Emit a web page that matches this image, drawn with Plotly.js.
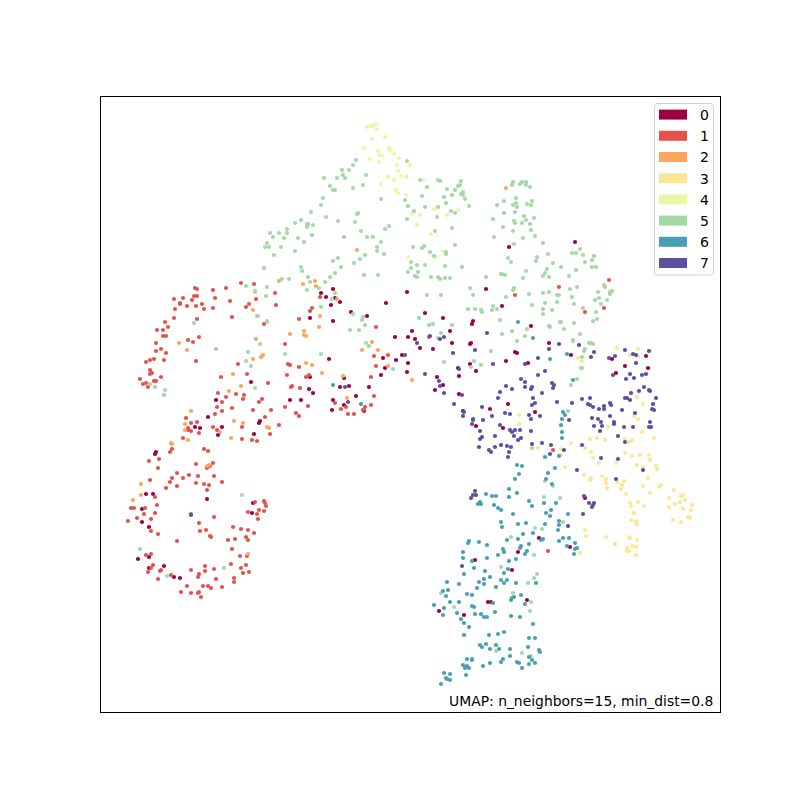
<!DOCTYPE html>
<html><head><meta charset="utf-8">
<script src="https://cdn.plot.ly/plotly-3.0.1.min.js"></script>
<style>html,body{margin:0;padding:0;background:#fff}</style></head>
<body><div id="chart" style="width:800px;height:800px"></div>
<script>
const labels = ["0","1","2","3","4","5","6","7"];
const colors = ["#9e0142","#e4524c","#fca55d","#fee593","#e9f8a3","#a2d9a4","#47a0b3","#5e4fa2"];
const caption = "UMAP: n_neighbors=15, min_dist=0.8";
const c0 = [[333,289],[321,293],[326,297],[335,298],[331,305],[340,302],[386,303],[351,312],[367,316],[310,318],[333,321],[395,337],[329,359],[383,358],[396,360],[385,368],[381,375],[310,377],[344,378],[251,382],[340,387],[349,386],[369,387],[309,389],[313,393],[356,396],[216,400],[290,400],[301,400],[333,400],[344,405],[332,410],[364,411],[208,417],[260,421],[259,423],[195,427],[200,428],[222,427],[218,435],[254,434],[156,452],[155,454],[207,499],[146,494],[153,494],[142,509],[253,503],[252,513],[142,522],[149,527],[149,557],[138,559],[149,568],[164,566],[174,577],[180,578],[575,242],[486,289],[407,292],[502,306],[425,313],[443,318],[473,321],[472,324],[531,326],[412,331],[450,331],[408,337],[415,339],[509,247],[420,348],[433,349],[452,343],[470,344],[471,343],[549,343],[515,352],[517,353],[402,355],[571,355],[506,361],[528,363],[612,359],[646,356],[408,363],[470,364],[625,366],[648,368],[458,368],[407,372],[476,371],[459,376],[616,373],[437,377],[443,385],[435,390],[459,394],[508,404],[490,409],[463,411],[535,412],[476,426],[503,428],[585,498],[539,538],[570,547],[518,552],[475,560],[512,570],[527,600],[488,602],[491,602],[439,611],[464,615]];
const c1 = [[195,288],[197,289],[213,290],[226,288],[241,283],[254,284],[275,293],[194,296],[197,296],[183,298],[174,299],[192,300],[215,298],[230,301],[256,299],[249,304],[246,307],[276,305],[180,303],[180,304],[187,306],[196,306],[202,304],[175,309],[204,309],[213,308],[174,318],[232,317],[197,319],[165,322],[168,327],[157,330],[163,330],[166,336],[163,336],[199,337],[188,340],[193,342],[156,343],[161,349],[156,351],[166,353],[154,359],[150,360],[146,362],[164,360],[196,361],[150,370],[152,373],[150,374],[161,377],[140,379],[154,381],[156,381],[146,383],[143,384],[148,387],[264,324],[238,364],[221,377],[247,374],[268,383],[218,393],[236,394],[244,395],[226,397],[243,399],[222,402],[259,402],[262,399],[217,407],[232,408],[222,411],[253,410],[271,410],[215,414],[265,417],[186,418],[197,422],[191,423],[188,428],[188,430],[213,427],[242,427],[191,431],[217,430],[279,425],[199,433],[270,434],[183,438],[242,439],[252,440],[257,441],[299,319],[310,311],[312,308],[320,297],[376,327],[285,344],[288,364],[290,365],[299,367],[287,375],[306,377],[309,375],[292,386],[291,387],[300,388],[308,406],[285,407],[296,413],[299,416],[374,356],[388,355],[376,366],[371,377],[374,396],[371,405],[335,403],[346,407],[341,409],[348,414],[354,414],[365,407],[363,410],[204,449],[208,451],[172,449],[170,452],[159,459],[149,461],[196,464],[213,463],[210,466],[207,468],[158,468],[177,473],[189,475],[198,476],[172,478],[183,478],[214,476],[150,480],[170,482],[196,483],[222,482],[204,484],[209,485],[177,486],[166,488],[207,490],[155,497],[255,502],[264,501],[265,503],[266,506],[157,505],[131,508],[134,508],[145,508],[259,510],[248,512],[264,511],[155,513],[144,514],[191,514],[257,514],[214,517],[137,518],[151,519],[258,519],[128,521],[199,523],[233,527],[241,529],[248,530],[206,530],[200,531],[151,531],[254,533],[158,534],[210,536],[211,537],[246,537],[235,539],[228,540],[248,540],[177,541],[232,549],[146,555],[151,554],[240,556],[247,556],[231,564],[246,565],[153,565],[205,566],[151,568],[241,568],[214,569],[191,570],[205,571],[161,570],[160,571],[148,572],[199,574],[243,573],[249,572],[198,577],[171,575],[234,578],[216,579],[158,579],[234,582],[187,586],[203,586],[208,586],[211,588],[222,587],[181,592],[191,593],[199,592],[198,593],[201,597],[515,295],[559,287],[609,280],[585,312],[604,308],[553,450],[548,551],[429,337]];
const c2 = [[279,281],[303,284],[315,281],[316,286],[337,299],[253,310],[320,316],[319,327],[290,334],[304,331],[304,335],[306,336],[256,339],[179,343],[187,350],[372,342],[362,350],[378,350],[263,355],[261,357],[253,359],[306,363],[312,365],[388,366],[233,374],[322,373],[343,376],[241,386],[229,391],[347,398],[191,411],[234,421],[243,423],[185,424],[267,427],[269,428],[185,430],[220,432],[231,438],[188,440],[171,443],[172,444],[209,465],[207,466],[141,484],[141,495],[133,500],[248,554],[506,188],[357,250],[412,380]];
const c3 = [[617,348],[638,349],[630,355],[638,357],[578,358],[582,361],[637,397],[643,404],[519,415],[634,416],[638,419],[519,424],[608,427],[642,432],[590,439],[597,438],[605,440],[625,439],[632,440],[629,442],[654,438],[571,443],[538,448],[561,449],[585,448],[591,452],[625,453],[632,456],[640,455],[649,455],[561,455],[593,458],[650,460],[599,463],[616,463],[637,465],[656,466],[657,469],[643,467],[565,467],[584,475],[591,478],[590,480],[602,476],[606,479],[606,483],[617,482],[624,481],[648,478],[622,485],[643,486],[607,488],[621,489],[661,485],[659,487],[674,490],[650,493],[626,494],[683,495],[681,496],[669,498],[685,500],[680,502],[675,504],[692,505],[630,503],[638,502],[631,506],[644,506],[669,507],[683,509],[691,510],[634,513],[688,517],[690,518],[673,520],[681,522],[631,520],[636,521],[637,524],[606,537],[615,544],[585,530],[586,536],[580,553],[629,537],[630,538],[637,540],[632,546],[636,547],[627,548],[627,551],[629,551],[636,555]];
const c4 = [[376,124],[367,127],[370,126],[373,126],[377,129],[385,137],[372,139],[364,148],[389,148],[390,150],[378,151],[379,155],[382,156],[394,154],[370,159],[399,158],[379,162],[397,165],[410,165],[398,171],[388,177],[401,176],[406,177],[407,176],[394,180],[381,184],[423,180],[396,190],[398,193],[406,195],[434,209],[458,210],[412,214],[420,215],[447,215],[417,225],[431,234],[372,237],[443,251],[408,257],[436,257]];
const c5 = [[356,160],[353,165],[349,170],[342,170],[343,175],[366,175],[324,178],[337,178],[345,178],[407,161],[420,180],[438,180],[440,181],[461,181],[460,185],[458,186],[455,190],[447,189],[427,187],[330,186],[333,190],[335,190],[353,188],[363,185],[463,192],[461,194],[463,195],[452,195],[444,197],[422,196],[381,199],[323,198],[405,200],[465,199],[446,203],[321,205],[408,206],[438,207],[425,207],[469,206],[414,211],[451,211],[455,213],[311,212],[358,213],[357,214],[437,217],[326,217],[407,219],[301,220],[338,221],[355,222],[295,223],[308,224],[307,224],[313,225],[307,227],[287,229],[389,226],[385,229],[452,228],[435,231],[361,231],[270,233],[279,233],[287,233],[312,235],[273,237],[284,238],[298,238],[344,237],[367,237],[373,237],[381,242],[267,243],[304,242],[265,247],[269,247],[281,247],[295,251],[377,247],[413,247],[424,246],[422,248],[455,245],[377,251],[384,254],[365,255],[274,255],[430,252],[434,256],[446,252],[446,254],[360,259],[338,258],[333,261],[411,262],[417,265],[425,265],[445,266],[462,267],[354,263],[341,267],[264,268],[301,267],[302,271],[411,268],[408,272],[418,272],[335,273],[364,275],[378,275],[415,276],[417,277],[431,277],[438,277],[440,279],[445,278],[450,278],[308,277],[330,277],[282,279],[289,279],[310,282],[325,282],[267,287],[319,288],[307,290],[255,291],[335,293],[266,296],[332,299],[427,295],[441,295],[321,307],[257,316],[353,314],[363,317],[362,320],[365,325],[267,321],[350,330],[359,330],[419,318],[429,325],[433,324],[452,325],[441,333],[438,338],[513,182],[512,185],[520,184],[522,182],[526,182],[526,185],[530,187],[516,198],[504,201],[532,201],[497,205],[513,205],[516,203],[517,207],[527,204],[531,205],[515,212],[504,213],[524,216],[493,219],[534,218],[526,220],[514,221],[515,223],[522,223],[530,224],[503,227],[531,230],[513,231],[494,237],[523,238],[535,236],[543,243],[514,244],[580,249],[572,253],[576,253],[583,255],[594,256],[548,254],[508,258],[537,257],[536,261],[592,260],[585,262],[511,262],[553,263],[561,267],[592,267],[596,267],[547,269],[545,273],[526,271],[576,270],[501,274],[502,274],[505,275],[486,277],[543,276],[549,277],[569,276],[523,278],[604,285],[605,287],[514,288],[513,290],[470,288],[577,287],[570,289],[598,292],[612,291],[610,292],[610,294],[549,292],[543,293],[529,294],[557,295],[559,295],[572,297],[473,295],[506,297],[599,298],[595,300],[607,300],[601,304],[545,303],[557,302],[574,304],[532,305],[493,306],[468,309],[475,309],[481,310],[482,312],[492,310],[497,309],[543,309],[552,310],[583,308],[543,314],[596,312],[500,320],[597,319],[593,321],[560,322],[561,322],[574,323],[549,326],[550,327],[527,329],[564,329],[512,331],[502,334],[580,334],[525,336],[573,340],[517,341],[573,341],[589,343],[591,343],[593,344],[585,349],[584,351],[582,357],[581,368],[582,368],[577,379],[571,385],[491,351],[474,361],[471,367],[481,365],[444,362],[393,369],[568,411],[532,448],[545,481],[553,486],[246,286],[255,292],[194,323],[216,349],[260,344],[248,352],[246,361],[251,366],[285,354],[321,354],[366,343],[369,346],[255,388],[150,384],[155,387],[165,390],[164,395],[242,495],[140,549],[224,568],[167,576],[258,316],[267,322],[544,497],[560,498],[563,522],[535,528],[542,529],[511,537],[534,555],[501,567],[537,574],[534,578],[528,583],[441,593],[513,593],[531,602],[454,607],[530,611],[496,651],[522,653],[531,656]];
const c6 = [[509,489],[517,493],[486,494],[492,496],[496,496],[509,497],[529,501],[544,503],[556,503],[480,502],[478,504],[481,504],[494,505],[532,506],[498,508],[501,510],[546,513],[551,510],[568,514],[550,516],[513,514],[501,522],[518,524],[526,523],[545,524],[559,521],[559,525],[502,527],[558,530],[533,533],[523,534],[518,539],[507,540],[543,539],[541,540],[563,538],[569,538],[559,541],[469,541],[468,543],[479,542],[487,545],[529,544],[521,546],[520,548],[575,543],[567,546],[577,548],[575,549],[503,549],[504,552],[463,552],[527,551],[525,554],[574,554],[498,555],[463,558],[487,558],[516,559],[472,561],[509,561],[474,568],[508,569],[485,571],[504,573],[464,574],[490,577],[484,579],[501,580],[507,580],[479,582],[447,582],[459,584],[516,583],[536,583],[484,584],[504,583],[477,588],[496,587],[448,590],[443,591],[467,594],[472,595],[446,596],[521,595],[514,597],[512,598],[511,600],[459,602],[450,602],[493,603],[525,604],[434,605],[472,606],[474,607],[444,608],[495,612],[457,613],[443,615],[475,614],[481,614],[461,619],[484,617],[487,617],[511,616],[520,617],[464,623],[533,624],[469,627],[504,632],[498,634],[489,635],[464,635],[529,638],[535,638],[486,644],[480,645],[482,647],[496,645],[490,649],[499,649],[510,649],[528,647],[539,650],[540,652],[510,656],[529,657],[467,659],[472,659],[472,660],[503,659],[532,660],[490,663],[501,662],[517,662],[519,663],[535,663],[529,664],[463,665],[483,666],[467,666],[465,668],[469,668],[522,668],[444,673],[450,674],[466,675],[446,678],[447,679],[450,680],[441,684],[518,322],[533,338],[567,354],[550,359],[573,380],[563,412],[565,415],[562,419],[561,425],[562,432],[562,438],[545,457],[559,456],[517,465],[522,466],[555,468],[519,474],[548,473],[515,479],[546,479],[552,484],[333,385],[361,404]];
const c7 = [[487,333],[430,336],[444,337],[440,339],[417,343],[559,344],[579,345],[549,349],[475,350],[594,352],[625,350],[649,351],[453,353],[405,355],[633,354],[636,355],[615,356],[591,357],[609,358],[538,358],[525,364],[636,363],[493,364],[545,371],[538,375],[459,369],[425,374],[630,374],[613,375],[646,374],[642,375],[626,379],[634,378],[521,379],[439,381],[525,382],[552,383],[554,385],[553,388],[506,386],[512,389],[532,387],[531,389],[525,387],[440,386],[444,393],[644,387],[649,390],[650,391],[639,391],[542,393],[500,392],[631,393],[627,398],[625,398],[630,400],[462,395],[498,398],[533,398],[582,399],[590,398],[656,398],[557,402],[572,403],[535,403],[532,405],[588,404],[590,405],[593,407],[610,403],[611,405],[604,406],[604,409],[599,409],[653,404],[454,404],[482,407],[652,409],[654,410],[622,410],[464,412],[505,413],[635,413],[529,415],[510,414],[540,416],[610,416],[463,416],[492,416],[592,418],[598,419],[473,419],[473,420],[531,419],[483,420],[569,420],[601,422],[614,422],[614,424],[650,422],[472,424],[500,425],[594,426],[602,426],[624,427],[633,427],[649,427],[651,427],[510,430],[515,430],[520,430],[512,432],[531,431],[480,431],[600,431],[514,436],[482,437],[495,436],[480,439],[521,438],[518,440],[618,436],[625,442],[501,445],[532,444],[542,443],[551,445],[507,446],[511,447],[479,447],[495,447],[582,445],[564,450],[489,450],[491,452],[509,452],[550,454],[508,457],[601,458],[618,459],[577,470],[643,470],[616,479],[475,491],[473,495],[476,495],[471,498],[584,496],[589,503],[594,503],[593,505],[592,507],[583,514],[568,526],[345,387],[348,402],[191,515],[462,566]];
const clusters = [c0,c1,c2,c3,c4,c5,c6,c7];

const traces = [];
clusters.forEach((pts,i)=>{
  traces.push({type:"scatter",mode:"markers",x:pts.map(p=>p[0]),y:pts.map(p=>p[1]),
    marker:{size:4.2,color:colors[i],line:{width:0}},showlegend:false,hoverinfo:"skip"});
});
labels.forEach((lab,i)=>{
  traces.push({type:"scatter",mode:"lines",x:[null],y:[null],name:lab,legendgroup:"g"+i,
    line:{color:colors[i],width:10,dash:"28px,30px"},showlegend:true});
});
const layout = {
  width:800,height:800,paper_bgcolor:"#fff",plot_bgcolor:"#fff",
  margin:{l:101,r:80,t:97,b:88,pad:0},
  font:{family:"DejaVu Sans",color:"#000",size:14},
  xaxis:{range:[101,720],showticklabels:false,ticks:"",showgrid:false,zeroline:false,showline:true,mirror:true,linecolor:"#000",linewidth:1},
  yaxis:{range:[712,97],showticklabels:false,ticks:"",showgrid:false,zeroline:false,showline:true,mirror:true,linecolor:"#000",linewidth:1},
  legend:{x:(654-101)/619,xanchor:"left",y:1-(99-97)/615,yanchor:"top",bgcolor:"rgba(0,0,0,0)",borderwidth:0,
    font:{family:"DejaVu Sans",size:14,color:"#000"},itemwidth:36,tracegroupgap:1.75,traceorder:"normal"},
  shapes:[{type:"path",xref:"x",yref:"y",layer:"below",fillcolor:"#fff",line:{color:"#d0d0d0",width:1},
    path:"M657,103.5 L710.5,103.5 Q713.5,103.5 713.5,106.5 L713.5,272 Q713.5,275 710.5,275 L657,275 Q654.5,275 654.5,272 L654.5,106.5 Q654.5,103.5 657,103.5 Z"}],
  annotations:[{text:caption,xref:"paper",yref:"paper",x:0.9905,y:0.0025,xanchor:"right",yanchor:"bottom",showarrow:false,
    font:{family:"DejaVu Sans",size:13.9,color:"#000"},borderpad:0}]
};
Plotly.newPlot("chart",traces,layout,{displayModeBar:false,staticPlot:true});
</script></body></html>
